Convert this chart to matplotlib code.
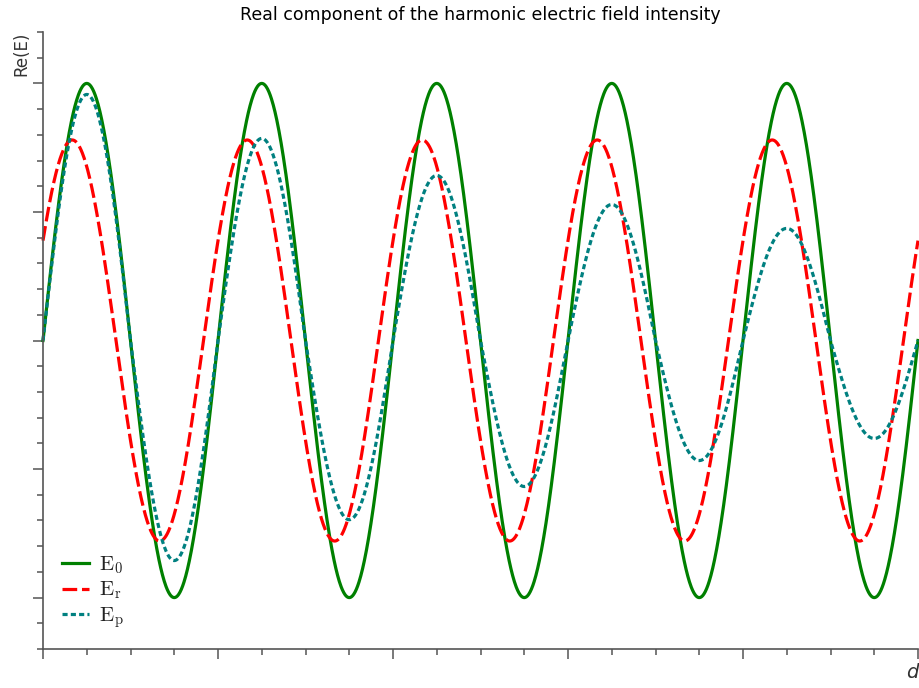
"""Real part of the harmonic electric field: incident, reflected and damped waves."""

import numpy as np
import matplotlib
matplotlib.use("Agg")
import matplotlib.pyplot as plt
from matplotlib.ticker import MultipleLocator, NullFormatter

# x axis is measured in wavelengths, five of them are shown
D_RANGE = (0.0, 5.0)
Y_RANGE = (-1.2, 1.2)

# each wave is a row of half-cycle lobes; a lobe starts at zero + k/2
# and its value is the extremum (sign = up/down)
E0_ZERO = 0.0
E0_LOBES = [1.00, -1.00, 1.00, -1.00, 1.00, -1.00, 1.00, -1.00, 1.00, -1.00]

ER_ZERO = -0.083
ER_LOBES = [0.78, -0.78, 0.78, -0.78, 0.78, -0.78, 0.78, -0.78, 0.78, -0.78, 0.78]

EP_ZERO = 0.0
EP_LOBES = [0.957, -0.856, 0.786, -0.697, 0.642, -0.568, 0.529, -0.467, 0.436, -0.381]

LABELS = [r"$\mathrm{E}_0$", r"$\mathrm{E}_\mathrm{r}$", r"$\mathrm{E}_\mathrm{p}$"]
COLORS = ["#008000", "#ff0000", "#008080"]

TITLE = "Real component of the harmonic electric field intensity"


def lobe_curve(d, zero, lobes):
    """Trace half-sine arcs through the read lobe extrema."""
    phase = 2.0 * (d - zero)
    idx = np.clip(np.floor(phase).astype(int), 0, len(lobes) - 1)
    return np.asarray(lobes)[idx] * np.abs(np.sin(np.pi * phase))


def main():
    plt.rcParams["mathtext.fontset"] = "cm"

    fig = plt.figure(figsize=(9.19, 6.88), dpi=100)
    ax = fig.add_axes([43 / 919, 39 / 688, 875 / 919, 617 / 688])

    d = np.linspace(D_RANGE[0], D_RANGE[1], 2000)
    waves = [(E0_ZERO, E0_LOBES), (ER_ZERO, ER_LOBES), (EP_ZERO, EP_LOBES)]
    styles = [
        dict(linestyle="-"),
        dict(linestyle=(0, (4.6, 1.5))),
        dict(linestyle=(0, (1.6, 1.0))),
    ]
    for (zero, lobes), label, color, style in zip(waves, LABELS, COLORS, styles):
        ax.plot(d, lobe_curve(d, zero, lobes), color=color, lw=2.3,
                label=label, clip_on=False, **style)

    ax.set_xlim(*D_RANGE)
    ax.set_ylim(*Y_RANGE)

    for side in ("top", "right"):
        ax.spines[side].set_visible(False)
    for side in ("left", "bottom"):
        ax.spines[side].set_color("#555555")
        ax.spines[side].set_linewidth(1.2)

    ax.xaxis.set_major_locator(MultipleLocator(1.0))
    ax.xaxis.set_minor_locator(MultipleLocator(0.25))
    ax.yaxis.set_major_locator(MultipleLocator(0.5))
    ax.yaxis.set_minor_locator(MultipleLocator(0.1))
    ax.xaxis.set_major_formatter(NullFormatter())
    ax.yaxis.set_major_formatter(NullFormatter())
    ax.tick_params(which="major", length=7.5, width=1.1, color="#555555")
    ax.tick_params(which="minor", length=4.5, width=1.1, color="#555555")

    ax.set_title(TITLE, fontsize=12.5, pad=9)
    fig.text(21 / 919, 1 - 54 / 688, "Re(E)", rotation=90, fontsize=12,
             ha="center", va="center", color="#333333")
    fig.text(912 / 919, 1 - 673 / 688, "d", fontsize=14, style="italic",
             ha="center", va="center", color="#333333")

    leg = ax.legend(loc="lower left", bbox_to_anchor=(0.0, 0.0),
                    frameon=False, fontsize=15, handlelength=1.3,
                    handletextpad=0.5, labelspacing=0.2, borderaxespad=0.5)
    for text in leg.get_texts():
        text.set_color("#222222")

    fig.savefig("out.png", dpi=100)


if __name__ == "__main__":
    main()
